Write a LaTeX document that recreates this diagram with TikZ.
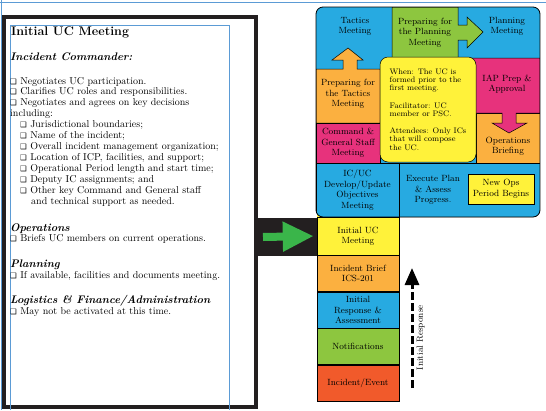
\documentclass[tikz,border=0pt]{standalone}
\usepackage{fontspec}
\newfontfamily\chkfont{DejaVu Sans}
\usetikzlibrary{arrows.meta, positioning}
\definecolor{BlockCyan}{HTML}{27AAE1}
\definecolor{BlockGreen}{HTML}{8DC63F}
\definecolor{BlockOrange}{HTML}{FBB040}
\definecolor{BlockPink}{HTML}{E7327C}
\definecolor{BlockYellow}{HTML}{FFF23A}
\definecolor{EventRed}{HTML}{F15A2B}
\definecolor{ArrowGreen}{HTML}{3AB54A}
\definecolor{FrameBlack}{HTML}{231F20}
\definecolor{GuideBlue}{HTML}{5B9BD5}
\newcommand{\chk}{{\chkfont\fontsize{7.5}{8}\selectfont\char"2751}}

\begin{document}
\begin{tikzpicture}[x=1pt, y=-1pt, font=\small,
    cell/.style={draw=black, line width=0.5pt, inner sep=0pt, align=center, font=\fontsize{9}{10.5}\selectfont},
    celltext/.style={inner sep=0pt, align=center, font=\fontsize{9}{10.5}\selectfont},
    stepbox/.style={cell, minimum width=82pt, minimum height=36pt},
    shapeline/.style={draw=black, line width=0.5pt},
    heading/.style={anchor=base west, inner sep=0pt, font=\fontsize{11}{13}\selectfont\bfseries\itshape},
    bodyline/.style={anchor=base west, inner sep=0pt, font=\fontsize{10}{11}\selectfont}]
    \useasboundingbox (0,0) rectangle (546,410);

    % frame round the text column
    \draw[line width=4pt, FrameBlack] (4,16.5) rectangle (256,407);
    \draw[GuideBlue, line width=0.6pt] (0,2.5) -- (546,2.5);
    \draw[GuideBlue, line width=0.6pt] (1,0) -- (1,410);
    \draw[GuideBlue, line width=0.6pt] (10,410) -- (10,25) -- (229,25) -- (229,410);

    % left text
    \node[anchor=base west, inner sep=0pt, font=\fontsize{12.5}{14}\selectfont\bfseries] (title) at (11,35.5) {Initial UC Meeting};
    \node[heading] (ichead) at (10,60) {Incident Commander:};
    \foreach \txt [count=\i from 0] in {{\chk\ Negotiates UC participation.}, {\chk\ Clarifies UC roles and responsibilities.}, {\chk\ Negotiates and agrees on key decisions}, {including:}}
        \node[bodyline] (icline\i) at (10,{84+10.9*\i}) {\txt};
    \foreach \txt [count=\i from 4] in {{Jurisdictional boundaries;}, {Name of the incident;}, {Overall incident management organization;}, {Location of ICP, facilities, and support;}, {Operational Period length and start time;}, {Deputy IC assignments; and}, {Other key Command and General staff}}
        \node[bodyline] (icline\i) at (20,{84+10.9*\i}) {\chk\ \txt};
    \node[bodyline] (icline11) at (31,204) {and technical support as needed.};
    \node[heading] (opshead) at (10,231) {Operations};
    \node[bodyline] (opsline) at (10,241) {\chk\ Briefs UC members on current operations.};
    \node[heading] (planhead) at (10,267) {Planning};
    \node[bodyline] (planline) at (10,278) {\chk\ If available, facilities and documents meeting.};
    \node[heading] (loghead) at (10,303) {Logistics \& Finance/Administration};
    \node[bodyline] (logline) at (10,314) {\chk\ May not be activated at this time.};

    % initial response column
    \fill[FrameBlack] (254,218) rectangle (317,256);
    \fill[BlockYellow] (317,209) rectangle (326,218);
    \node[stepbox, fill=BlockYellow, minimum height=38pt] (ucstep) at (358,236) {Initial UC\\Meeting};
    \node[stepbox, fill=BlockOrange, below=0pt of ucstep] (briefstep) {Incident Brief\\ICS-201};
    \node[stepbox, fill=BlockCyan, below=0pt of briefstep] (responsestep) {Initial\\Response \&\\Assessment};
    \node[stepbox, fill=BlockGreen, below=0pt of responsestep] (notifystep) {Notifications};
    \node[stepbox, fill=EventRed, below=0pt of notifystep] (eventstep) {Incident/Event};

    % planning cycle block
    \begin{scope}
        \clip[rounded corners=7pt] (316,7) rectangle (540,217);
        \fill[BlockCyan] (316,7) rectangle (540,217);
        \filldraw[shapeline, fill=BlockGreen] (392,7) -- (458,7) -- (458,25) -- (467,25) -- (467,17) -- (483,32) -- (467,48) -- (467,40) -- (458,40) -- (458,58) -- (392,58) -- cycle;
        \filldraw[shapeline, fill=BlockOrange] (316,69) -- (343,69) -- (343,60) -- (332,60) -- (348,48) -- (363,60) -- (357,60) -- (357,69) -- (380,69) -- (380,123) -- (316,123) -- cycle;
        \node[cell, fill=BlockPink, minimum width=64pt, minimum height=40pt] (cmdstaff) at (348,143) {Command \&\\General Staff\\Meeting};
        \node[cell, fill=BlockOrange, minimum width=64pt, minimum height=50pt,
            label={[celltext, yshift=-8.5pt]center:Operations\\Briefing}] (opbrief) at (508,138) {};
        \filldraw[shapeline, fill=BlockPink] (470,58) -- (540,58) -- (540,113) -- (516,113) -- (516,123) -- (527,123) -- (509,133) -- (492,123) -- (502,123) -- (502,113) -- (470,113) -- cycle;
        \node[draw=black, line width=0.5pt, fill=BlockYellow, rounded corners=8pt, minimum width=96pt, minimum height=105pt,
            align=left, inner sep=0pt, font=\fontsize{8}{8.3}\selectfont] (whenbox) at (428,109.5)
            {When: The UC is\\formed prior to the\\first meeting.\\[9pt]Facilitator: UC\\member or PSC.\\[9pt]Attendees: Only ICs\\that will compose\\the UC.};
        \node[cell, fill=BlockCyan, minimum width=83pt, minimum height=54pt] (icucobj) at (357.5,190) {IC/UC\\Develop/Update\\Objectives\\Meeting};
        \node[cell, fill=BlockCyan, minimum width=141pt, minimum height=54pt,
            label={[celltext, xshift=-36.5pt]center:Execute Plan\\\& Assess\\Progress.}] (execplan) at (469.5,190) {};
        \node[cell, fill=BlockYellow, line width=0.7pt, minimum width=66pt, minimum height=30pt] (newops) at (501,189) {New Ops\\Period Begins};
        \node[celltext] (tactics) at (355,26.5) {Tactics\\Meeting};
        \node[celltext] (prepplan) at (425,32.5) {Preparing for\\the Planning\\Meeting};
        \node[celltext] (planning) at (507,26.5) {Planning\\Meeting};
        \node[celltext] (preptactics) at (348,94) {Preparing for\\the Tactics\\Meeting};
        \node[celltext] (iapprep) at (507,84) {IAP Prep \&\\Approval};
    \end{scope}
    \draw[line width=0.8pt, rounded corners=7pt] (316,7) rectangle (540,217);

    % connectors
    \coordinate (bandstart) at (263,237);
    \draw[line width=8pt, ArrowGreen, -{Triangle[width=28pt, length=31pt]}, shorten >=3pt] (bandstart) -- (ucstep.west);
    \coordinate (respfoot) at (412,388);
    \coordinate (resptip) at (412,268);
    \draw[line width=3pt, dash pattern=on 8pt off 3pt, -{Triangle[width=14pt, length=17pt]}] (respfoot) -- node[celltext, pos=0.42, sloped, below=3pt] {Initial Response} (resptip);
\end{tikzpicture}
\end{document}
